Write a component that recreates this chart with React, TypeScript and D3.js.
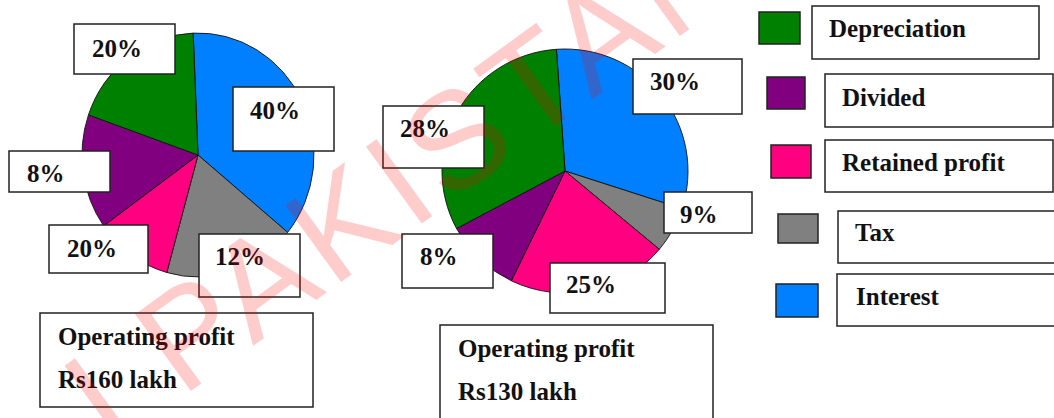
import React from "react";
import * as d3 from "d3";

// ---- data ----
const categories = ["Depreciation", "Divided", "Retained profit", "Tax", "Interest"];
const sliceColors = ["#008000", "#800080", "#ff0080", "#808080", "#0080ff"];
// slice sizes as drawn (shares, %)
const leftShares = [19.0, 15.2, 10.8, 18.4, 36.6];
const rightShares = [31.7, 10.0, 21.1, 6.1, 31.1];
// printed labels
const leftLabels = ["20%", "8%", "20%", "12%", "40%"];
const rightLabels = ["28%", "8%", "25%", "9%", "30%"];
const panelTitle = "Operating profit";
const panelAmounts = ["Rs160 lakh", "Rs130 lakh"];
const watermarkText = "I PAKISTAN";

// clockwise drawing order from 12 o'clock: Interest, Tax, Retained, Divided, Depreciation
const drawOrder = [4, 3, 2, 1, 0];

// ---- layout ----
const W = 1054;
const H = 418;
const serifStyle: React.CSSProperties = {
  fontFamily: '"Liberation Serif"',
  fontWeight: 700,
  fontSize: "25px",
};

const pies = [
  { shares: leftShares, labels: leftLabels, cx: 198, cy: 155, rx: 116, ry: 122, start: -2.4,
    boxes: [
      { x: 74, y: 24, w: 101, h: 50, tx: 92, ty: 57 },
      { x: 9, y: 151, w: 101, h: 41, tx: 27, ty: 182 },
      { x: 49, y: 225, w: 99, h: 48, tx: 67, ty: 257 },
      { x: 199, y: 234, w: 101, h: 63, tx: 215, ty: 265 },
      { x: 233, y: 87, w: 101, h: 64, tx: 250, ty: 119 },
    ],
    panel: { x: 40, y: 313, w: 273, h: 94, tx: 58, t1: 345, t2: 388 } },
  { shares: rightShares, labels: rightLabels, cx: 565, cy: 171, rx: 123, ry: 122, start: -4,
    boxes: [
      { x: 383, y: 106, w: 101, h: 62, tx: 400, ty: 137 },
      { x: 402, y: 234, w: 91, h: 54, tx: 420, ty: 265 },
      { x: 550, y: 263, w: 115, h: 50, tx: 566, ty: 293 },
      { x: 664, y: 192, w: 88, h: 41, tx: 680, ty: 223 },
      { x: 633, y: 59, w: 109, h: 55, tx: 650, ty: 90 },
    ],
    panel: { x: 440, y: 325, w: 273, h: 100, tx: 458, t1: 357, t2: 400 } },
];

const legend = [
  { sx: 759, sy: 12, sw: 41, sh: 32, bx: 812, by: 6, bw: 227, bh: 53, tx: 829, ty: 37 },
  { sx: 767, sy: 77, sw: 38, sh: 32, bx: 825, by: 74, bw: 228, bh: 53, tx: 842, ty: 106 },
  { sx: 771, sy: 145, sw: 40, sh: 33, bx: 825, by: 140, bw: 228, bh: 52, tx: 842, ty: 171 },
  { sx: 778, sy: 214, sw: 40, sh: 29, bx: 838, by: 211, bw: 220, bh: 52, tx: 855, ty: 241 },
  { sx: 776, sy: 284, sw: 42, sh: 33, bx: 837, by: 274, bw: 220, bh: 52, tx: 856, ty: 305 },
];

function Pie({ p }: { p: typeof pies[number] }) {
  const R = 100;
  const start = (p.start * Math.PI) / 180;
  const gen = d3
    .pie<number>()
    .sort(null)
    .value((i) => p.shares[i])
    .startAngle(start)
    .endAngle(start + 2 * Math.PI);
  const arcs = gen(drawOrder);
  const arc = d3.arc<d3.PieArcDatum<number>>().innerRadius(0).outerRadius(R);
  return (
    <g transform={`translate(${p.cx},${p.cy}) scale(${p.rx / R},${p.ry / R})`}>
      {arcs.map((a) => (
        <path
          key={a.data}
          d={arc(a) || ""}
          fill={sliceColors[a.data]}
          stroke="#111"
          strokeWidth={0.9}
          vectorEffect="non-scaling-stroke"
        />
      ))}
    </g>
  );
}

export default function App() {
  return (
    <svg width={W} height={H} style={{ position: "absolute", left: 0, top: 0, background: "#fff" }}>
      <rect x={0} y={0} width={W} height={H} fill="#fff" />
      {pies.map((p, pi) => (
        <g key={pi}>
          <Pie p={p} />
          {p.boxes.map((b, i) => (
            <g key={i}>
              <rect x={b.x} y={b.y} width={b.w} height={b.h} fill="#fff" stroke="#222" strokeWidth={1.5} />
              <text x={b.tx} y={b.ty} style={serifStyle} fill="#111">
                {p.labels[i]}
              </text>
            </g>
          ))}
          <rect x={p.panel.x} y={p.panel.y} width={p.panel.w} height={p.panel.h} fill="#fff" stroke="#222" strokeWidth={1.5} />
          <text x={p.panel.tx} y={p.panel.t1} style={serifStyle} fill="#111">
            {panelTitle}
          </text>
          <text x={p.panel.tx} y={p.panel.t2} style={serifStyle} fill="#111">
            {panelAmounts[pi]}
          </text>
        </g>
      ))}
      {legend.map((l, i) => (
        <g key={i}>
          <rect x={l.sx} y={l.sy} width={l.sw} height={l.sh} fill={sliceColors[i]} stroke="#222" strokeWidth={1.5} />
          <rect x={l.bx} y={l.by} width={l.bw} height={l.bh} fill="#fff" stroke="#222" strokeWidth={1.5} />
          <text x={l.tx} y={l.ty} style={serifStyle} fill="#111">
            {categories[i]}
          </text>
        </g>
      ))}
      <text
        transform="translate(110,450) rotate(-36)"
        style={{ fontFamily: '"Liberation Sans"', fontSize: "138px", letterSpacing: "6px" }}
        fill="#ff0000"
        fillOpacity={0.2}
      >
        {watermarkText}
      </text>
    </svg>
  );
}
